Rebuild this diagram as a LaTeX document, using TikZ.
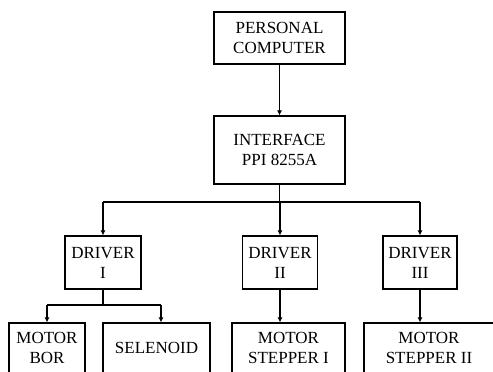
\documentclass[tikz,border=0pt]{standalone}
\usepackage{fontspec}
\setmainfont{Liberation Serif}
\usetikzlibrary{arrows.meta}
\begin{document}
\begin{tikzpicture}[x=1pt,y=-1pt,
  box/.style={draw,line width=1.1pt,inner sep=0pt,align=center,
    font=\fontsize{17}{20}\selectfont},
  link/.style={line width=1.1pt},
  arr/.style={line width=1.1pt,-{Latex[length=5pt,width=5pt]}}]
\clip (0,0) rectangle (493,372);
\fill[white] (0,0) rectangle (493,372);
\node[box,minimum width=131pt,minimum height=52pt] (pc) at (279.5,38) {PERSONAL\\COMPUTER};
\node[box,minimum width=131pt,minimum height=68pt] (iface) at (279.5,150) {INTERFACE\\PPI 8255A};
\node[box,minimum width=76pt,minimum height=53pt] (d1) at (103,262.5) {DRIVER\\I};
\node[box,minimum width=75pt,minimum height=53pt] (d2) at (280,262.5) {DRIVER\\II};
\node[box,minimum width=74pt,minimum height=53pt] (d3) at (420,262.5) {DRIVER\\III};
\node[box,minimum width=76pt,minimum height=50pt] (mb) at (47,348) {MOTOR\\BOR};
\node[box,minimum width=107pt,minimum height=50pt] (sel) at (156.5,348) {SELENOID};
\node[box,minimum width=113pt,minimum height=50pt] (ms1) at (288.5,348) {MOTOR\\STEPPER I};
\node[box,minimum width=130pt,minimum height=50pt] (ms2) at (429,348) {MOTOR\\STEPPER II};
\coordinate (bus) at (279.5,202);
\coordinate (busL) at (103,202);
\coordinate (busR) at (420,202);
\coordinate (sub) at (103,305);
\coordinate (subL) at (47,305);
\coordinate (subR) at (161,305);
\draw[arr] (pc.south) -- (iface.north);
\draw[link] (iface.south) -- (bus);
\draw[link] (busL) -- (busR);
\draw[arr] (busL) -- (busL |- d1.north);
\draw[arr] (bus -| d2.north) -- (d2.north);
\draw[arr] (busR) -- (busR |- d3.north);
\draw[link] (d1.south) -- (sub);
\draw[link] (subL) -- (subR);
\draw[arr] (subL) -- (subL |- mb.north);
\draw[arr] (subR) -- (subR |- sel.north);
\draw[arr] (d2.south) -- (d2.south |- ms1.north);
\draw[arr] (d3.south) -- (d3.south |- ms2.north);
\end{tikzpicture}
\end{document}
